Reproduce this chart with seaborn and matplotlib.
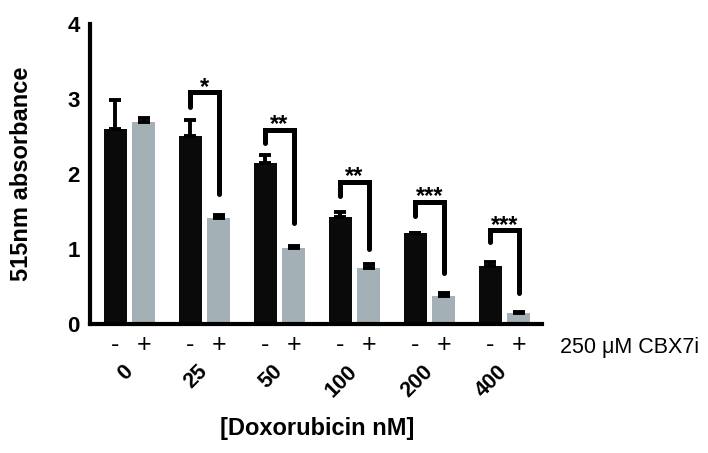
import matplotlib
matplotlib.use("Agg")
import matplotlib.pyplot as plt
import seaborn as sns
import pandas as pd
import numpy as np

# ---- data ----
doses = ["0", "25", "50", "100", "200", "400"]
vals_minus = [2.60, 2.51, 2.15, 1.43, 1.21, 0.78]
err_minus = [0.39, 0.21, 0.11, 0.06, 0.01, 0.05]
vals_plus = [2.69, 1.41, 1.01, 0.75, 0.38, 0.15]
err_plus = [0.06, 0.05, 0.03, 0.05, 0.04, 0.01]
sig_labels = ["", "*", "**", "**", "***", "***"]
bracket_top = [None, 3.09, 2.59, 1.90, 1.63, 1.25]
bracket_left = [None, 2.90, 2.41, 1.71, 1.44, 1.10]
bracket_right = [None, 1.73, 1.35, 1.00, 0.68, 0.42]
treat_levels = ["-", "+"]
treat_label = "250 \u03bcM CBX7i"
yticks = [0, 1, 2, 3, 4]
xlabel = "[Doxorubicin nM]"
ylabel = "515nm absorbance"

black = "#000000"
grey = "#a3b1b6"

sns.set_style("white")
plt.rcParams["font.family"] = ["Liberation Sans", "DejaVu Sans"]
plt.rcParams["text.color"] = black
plt.rcParams["axes.labelcolor"] = black
plt.rcParams["xtick.color"] = black
plt.rcParams["ytick.color"] = black

df = pd.DataFrame({
    "dose": doses * 2,
    "cbx": ["-"] * len(doses) + ["+"] * len(doses),
    "value": vals_minus + vals_plus,
})

fig = plt.figure(figsize=(7.08, 4.53), dpi=100)
ax = fig.add_axes([90 / 708, 1 - 324 / 453, 452 / 708, 300 / 453])

sns.barplot(data=df, x="dose", y="value", hue="cbx", hue_order=treat_levels,
            order=doses, palette={"-": "#0a0a0a", "+": grey}, width=0.75, gap=0.18,
            errorbar=None, legend=False, ax=ax, saturation=1, linewidth=0)

patches = [p for p in ax.patches]
n = len(doses)
xs_minus = [p.get_x() + p.get_width() / 2 for p in patches[:n]]
xs_plus = [p.get_x() + p.get_width() / 2 for p in patches[n:2 * n]]

for xs, vals, errs in [(xs_minus, vals_minus, err_minus), (xs_plus, vals_plus, err_plus)]:
    ax.errorbar(xs, vals, yerr=[np.zeros(n), errs], fmt="none", ecolor=black,
                elinewidth=2.8, capsize=4.0, capthick=2.8, zorder=3)

# significance brackets
for i in range(n):
    if bracket_top[i] is None:
        continue
    xl, xr = xs_minus[i], xs_plus[i]
    ax.plot([xl, xl, xr, xr],
            [bracket_left[i], bracket_top[i], bracket_top[i], bracket_right[i]],
            color=black, lw=3.6, solid_capstyle="round", solid_joinstyle="miter",
            zorder=4, clip_on=False)
    ax.text((xl + xr) / 2, bracket_top[i] - 0.02, sig_labels[i], ha="center",
            va="baseline", fontsize=17, fontweight="bold", color=black)

ax.set_xlim(-0.527, 5.5)
ax.set_ylim(0, 4)
ax.set_yticks(yticks)
ax.set_yticklabels([str(t) for t in yticks], fontsize=16, fontweight="bold")
ax.set_xticks(range(n))
ax.set_xticklabels(doses, fontsize=15.5, fontweight="bold", rotation=45,
                   ha="right", va="center", rotation_mode="anchor")
ax.tick_params(axis="x", length=0, pad=32)
ax.tick_params(axis="y", length=7, width=2.6, direction="out", pad=0.5, color=black)

for s in ["top", "right"]:
    ax.spines[s].set_visible(False)
for s in ["left", "bottom"]:
    ax.spines[s].set_linewidth(3.0)
    ax.spines[s].set_color(black)

ax.set_xlabel(xlabel, fontsize=17, fontweight="bold")
ax.set_ylabel(ylabel, fontsize=17, fontweight="bold")
ax.xaxis.set_label_coords(0.503, -0.31)
ax.yaxis.set_label_coords(-0.126, 0.5)

trans = ax.get_xaxis_transform()
for i in range(n):
    ax.text(xs_minus[i], -0.07, treat_levels[0], ha="center", va="center",
            fontsize=18, transform=trans)
    ax.text(xs_plus[i], -0.07, treat_levels[1], ha="center", va="center",
            fontsize=18, transform=trans)
ax.text(5.74, -0.077, treat_label, ha="left", va="center", fontsize=15.5,
        transform=trans)

fig.savefig("out.png", dpi=100)
